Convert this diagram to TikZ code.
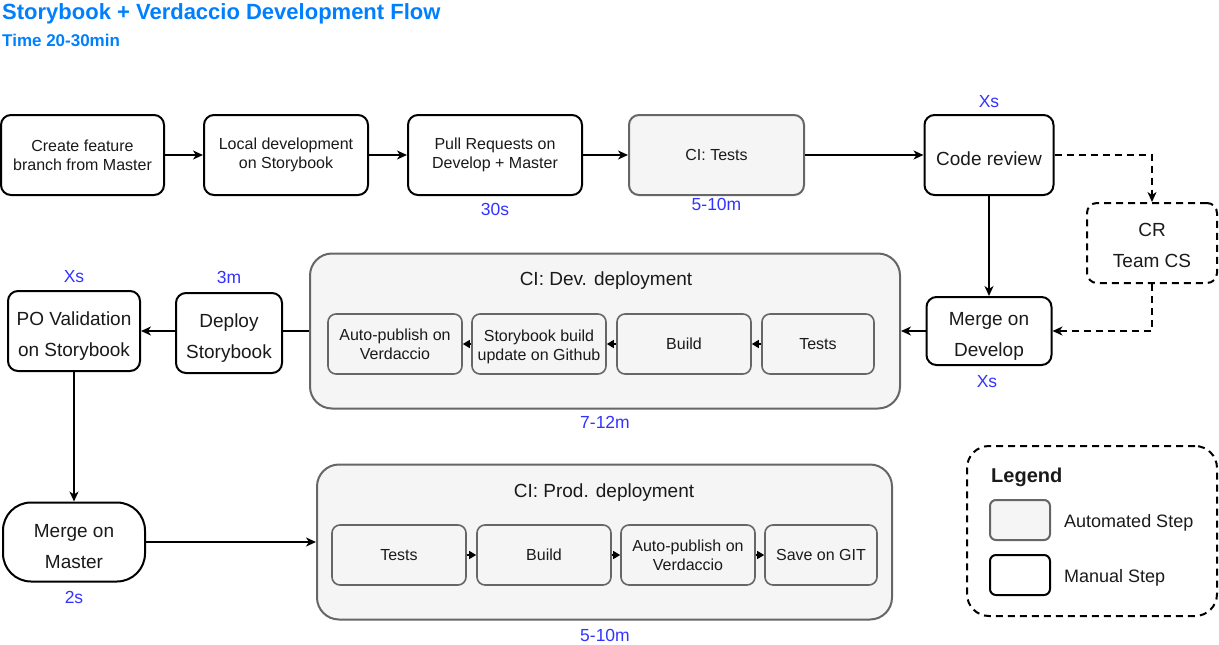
\documentclass[tikz,border=0pt]{standalone}
\usepackage{fontspec}
\setmainfont{Liberation Sans}
\usetikzlibrary{arrows.meta}
\definecolor{titleblue}{RGB}{0,127,255}
\definecolor{timeblue}{RGB}{51,51,255}
\definecolor{autofill}{RGB}{245,245,245}
\definecolor{autodraw}{RGB}{102,102,102}
\definecolor{txt}{RGB}{26,26,26}
\begin{document}
\begin{tikzpicture}[x=1pt,y=-1pt,
    every node/.style={text=txt,inner sep=0pt,align=center},
    manual/.style={draw=black,line width=2pt,rounded corners=10pt,fill=white},
    autostep/.style={draw=autodraw,line width=2pt,rounded corners=10pt,fill=autofill},
    cibox/.style={draw=autodraw,line width=2pt,rounded corners=22pt,fill=autofill},
    inner/.style={draw=autodraw,line width=1.6pt,rounded corners=8pt,fill=autofill,
        minimum width=134pt,minimum height=60pt,font=\fontsize{16}{19}\selectfont},
    small/.style={font=\fontsize{16}{19}\selectfont},
    big/.style={font=\fontsize{19}{31}\selectfont,text height=54pt},
    timelab/.style={text=timeblue,font=\fontsize{17.5}{20}\selectfont},
    dashbox/.style={dash pattern=on 7pt off 5pt},
    flow/.style={line width=2pt,-{Stealth[length=10pt,width=9pt,inset=3pt]}},
    link/.style={line width=2pt},
    tiny/.style={line width=1.2pt,-{Triangle[length=7pt,width=8pt]}}]
  \useasboundingbox (0,0) rectangle (1219,645);

  % title
  \node[anchor=west,text=titleblue,font=\bfseries\fontsize{22}{26}\selectfont] (title) at (2,14)
    {Storybook + Verdaccio Development Flow};
  \node[anchor=west,text=titleblue,font=\bfseries\fontsize{17}{20}\selectfont] (time) at (2,40)
    {Time 20-30min};

  % first row
  \node[manual,small,minimum width=163pt,minimum height=80pt] (branch) at (82.5,155)
    {Create feature\\branch from Master};
  \node[manual,small,minimum width=164pt,minimum height=80pt] (localdev) at (286,155)
    {Local development\\on Storybook};
  \node[manual,small,minimum width=174pt,minimum height=80pt] (prs) at (495,155)
    {Pull Requests on\\Develop + Master};
  \node[autostep,small,minimum width=175pt,minimum height=80pt] (citests) at (716.5,155)
    {CI: Tests};
  \node[manual,font=\fontsize{19}{22}\selectfont,text height=20pt,text depth=0pt,
    minimum width=129pt,minimum height=80pt] (review) at (989,155) {Code review};
  \node[manual,big,dashbox,text height=50pt,minimum width=130pt,minimum height=80pt] (cr) at (1152,243)
    {CR\\Team CS};
  \node[timelab] (t30s) at (495,209) {30s};
  \node[timelab] (tcitests) at (716.5,204) {5-10m};
  \node[timelab] (treview) at (989,102) {Xs};

  % dev deployment
  \node[manual,big,minimum width=125pt,minimum height=68pt] (mergedev) at (989,331)
    {Merge on\\Develop};
  \node[timelab] (tmergedev) at (987,382) {Xs};
  \node[cibox,minimum width=590pt,minimum height=155pt] (devbox) at (605,331) {};
  \node[font=\fontsize{19}{22}\selectfont] (devtitle) at (606,281) {CI: Dev. deployment};
  \node[inner,minimum width=112pt] (devtests) at (818,344) {Tests};
  \node[inner] (devbuild) at (684,344) {Build};
  \node[inner,text height=36pt] (devsb) at (539,344) {Storybook build\\update on Github};
  \node[inner] (devpub) at (395,344) {Auto-publish on\\Verdaccio};
  \node[timelab] (tdev) at (605,422) {7-12m};

  \node[manual,big,minimum width=106pt,minimum height=80pt] (deploy) at (229,333)
    {Deploy\\Storybook};
  \node[timelab] (tdeploy) at (229,277) {3m};
  \node[manual,big,minimum width=132pt,minimum height=80pt] (po) at (74,331)
    {PO Validation\\on Storybook};
  \node[timelab] (tpo) at (74,277) {Xs};

  % prod deployment
  \node[manual,big,rounded corners=28pt,minimum width=142pt,minimum height=79pt] (mergemaster) at (74,542)
    {Merge on\\Master};
  \node[timelab] (tmaster) at (74,597) {2s};
  \node[cibox,minimum width=575pt,minimum height=155pt] (prodbox) at (604.5,542) {};
  \node[font=\fontsize{19}{22}\selectfont] (prodtitle) at (604,493) {CI: Prod. deployment};
  \node[inner] (prodtests) at (399,555) {Tests};
  \node[inner] (prodbuild) at (544,555) {Build};
  \node[inner] (prodpub) at (688,555) {Auto-publish on\\Verdaccio};
  \node[inner,minimum width=112pt] (prodgit) at (821,555) {Save on GIT};
  \node[timelab] (tprod) at (605,635) {5-10m};

  % legend
  \node[draw=black,line width=2pt,dashbox,rounded corners=22pt,minimum width=250pt,minimum height=170pt] (legend) at (1092,531) {};
  \node[anchor=west,font=\bfseries\fontsize{20}{24}\selectfont] (legendtitle) at (991,477) {Legend};
  \node[autostep,rounded corners=6pt,minimum width=60pt,minimum height=40pt] (legauto) at (1020,520) {};
  \node[manual,rounded corners=6pt,minimum width=60pt,minimum height=40pt] (legmanual) at (1020,575) {};
  \node[anchor=west,font=\fontsize{18}{22}\selectfont] (legautotext) at (1064,523) {Automated Step};
  \node[anchor=west,font=\fontsize{18}{22}\selectfont] (legmanualtext) at (1064,578) {Manual Step};

  % connectors
  \draw[flow] (branch) -- (localdev);
  \draw[flow] (localdev) -- (prs);
  \draw[flow] (prs) -- (citests);
  \draw[flow] (citests) -- (review);
  \draw[flow] (review) -- (mergedev);
  \draw[flow,dashbox] (review.east) -| (cr.north);
  \draw[flow,dashbox] (cr.south) |- (mergedev.east);
  \draw[flow] (mergedev) -- (devbox.east |- mergedev.west);
  \draw[tiny] (devtests) -- (devbuild);
  \draw[tiny] (devbuild) -- (devsb);
  \draw[tiny] (devsb) -- (devpub);
  \draw[link] (devbox.west) -- (deploy.east |- devbox.west);
  \draw[flow] (deploy.west |- po.east) -- (po.east);
  \draw[flow] (po) -- (mergemaster);
  \draw[flow] (mergemaster) -- (prodbox.west |- mergemaster.east);
  \draw[tiny] (prodtests) -- (prodbuild);
  \draw[tiny] (prodbuild) -- (prodpub);
  \draw[tiny] (prodpub) -- (prodgit);
\end{tikzpicture}
\end{document}
